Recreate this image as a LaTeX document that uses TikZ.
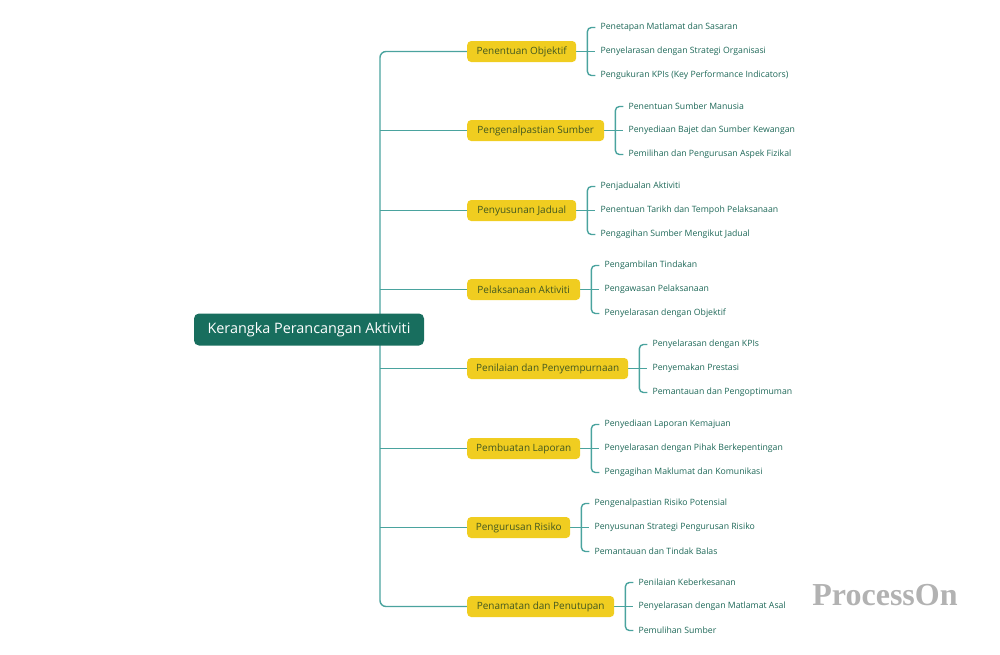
\documentclass[tikz,border=0pt]{standalone}
\usepackage{fontspec}
\setmainfont{Open Sans}
\newfontfamily\markfont{Liberation Serif}
\usetikzlibrary{positioning,backgrounds}
\definecolor{rootgreen}{RGB}{24,110,94}
\definecolor{branchyellow}{RGB}{240,205,32}
\definecolor{branchtext}{RGB}{66,88,32}
\definecolor{linkteal}{RGB}{74,163,158}
\definecolor{leaftext}{RGB}{30,104,88}
\newcommand{\trunkx}{380}
\newcommand{\leafgap}{24}

\tikzset{
	link/.style={draw=linkteal, line width=1.4pt},
	rootbox/.style={fill=rootgreen, text=white, rounded corners=5pt, minimum width=230pt, minimum height=32pt, font=\fontsize{14.4}{16}\selectfont},
	branchbox/.style={fill=branchyellow, text=branchtext, rounded corners=4pt, minimum height=21pt, inner xsep=0pt, anchor=west, font=\fontsize{10}{12}\selectfont},
	leaf/.style={text=leaftext, inner xsep=5pt, inner ysep=1pt, anchor=west, font=\fontsize{8.7}{10}\selectfont},
}

\begin{document}
\begin{tikzpicture}[x=1pt,y=-1pt]

	\useasboundingbox (0,-1.5) rectangle (1000,652.5);
	\node[rootbox] (root) at (309,328) {Kerangka Perancangan Aktiviti};
	\coordinate (trunk) at (\trunkx,328);

	\foreach \n/\y/\w/\B/\la/\lb/\lc in {
		1/50/109/Penentuan Objektif/Penetapan Matlamat dan Sasaran/Penyelarasan dengan Strategi Organisasi/{Pengukuran KPIs (Key Performance Indicators)},
		2/129/137/Pengenalpastian Sumber/Penentuan Sumber Manusia/Penyediaan Bajet dan Sumber Kewangan/Pemilihan dan Pengurusan Aspek Fizikal,
		3/209/109/Penyusunan Jadual/Penjadualan Aktiviti/Penentuan Tarikh dan Tempoh Pelaksanaan/Pengagihan Sumber Mengikut Jadual,
		4/288/113/Pelaksanaan Aktiviti/Pengambilan Tindakan/Pengawasan Pelaksanaan/Penyelarasan dengan Objektif,
		5/367/161/Penilaian dan Penyempurnaan/Penyelarasan dengan KPIs/Penyemakan Prestasi/Pemantauan dan Pengoptimuman,
		6/447/113/Pembuatan Laporan/Penyediaan Laporan Kemajuan/Penyelarasan dengan Pihak Berkepentingan/Pengagihan Maklumat dan Komunikasi,
		7/526/103/Pengurusan Risiko/Pengenalpastian Risiko Potensial/Penyusunan Strategi Pengurusan Risiko/Pemantauan dan Tindak Balas,
		8/605/147/Penamatan dan Penutupan/Penilaian Keberkesanan/Penyelarasan dengan Matlamat Asal/Pemulihan Sumber}
	{
		\node[branchbox, minimum width=\w pt] (b\n) at (467,\y) {\B};
		\coordinate[right=11pt of b\n.east] (k\n);
		\node[leaf] (l\n-1) at ([xshift=8pt, yshift=\leafgap pt]k\n) {\la};
		\node[leaf] (l\n-2) at ([xshift=8pt]k\n) {\lb};
		\node[leaf] (l\n-3) at ([xshift=8pt, yshift=-\leafgap pt]k\n) {\lc};
		\begin{scope}[on background layer]
			\draw[link] (b\n.east) -- (l\n-2.west);
			\draw[link, rounded corners=4pt] (l\n-1.west) -| (k\n) |- (l\n-3.west);
		\end{scope}
	}

	\begin{scope}[on background layer]
		\draw[link, rounded corners=6pt] (b1.west) -| (trunk) |- (b8.west);
		\foreach \n in {2,...,7}
			\draw[link] (b\n.west) -- (b\n.west -| trunk);
	\end{scope}

	\node[text=black!30, font=\markfont\bfseries\fontsize{32}{34}\selectfont] (mark) at (885,594) {ProcessOn};

\end{tikzpicture}
\end{document}
